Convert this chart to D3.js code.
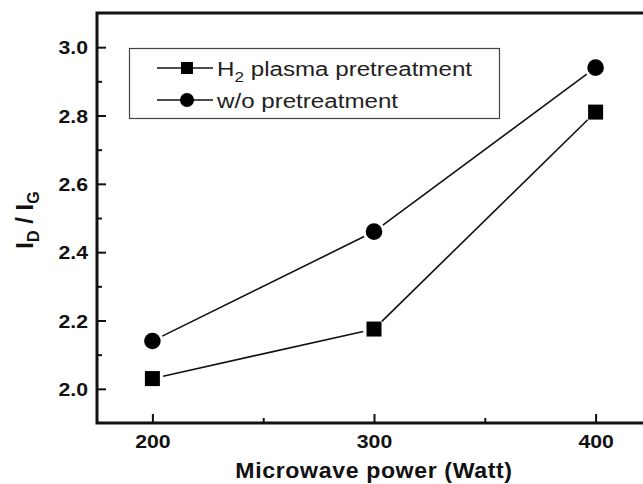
<!DOCTYPE html>
<html>
<head>
<meta charset="utf-8">
<script src="https://cdn.jsdelivr.net/npm/d3@7"></script>
<style>
  body { margin: 0; background: #fff; }
  svg { display: block; font-family: Arial, "Liberation Sans", sans-serif; }
</style>
</head>
<body>
<svg id="chart" width="643" height="484"></svg>
<script>
const power = [200, 300, 400];
const h2Plasma = [2.03, 2.175, 2.81];
const noPretreat = [2.14, 2.46, 2.94];
const xTicks = [200, 300, 400];
const yTicks = [2.0, 2.2, 2.4, 2.6, 2.8, 3.0];

const width = 643, height = 484;
const margins = { left: 97, top: 13, right: -8, bottom: 61 };
const sx = 1.18; // glyphs in the reference look stretched sideways

const vis = d3.select('#chart');

const xScale = d3.scaleLinear()
  .domain([175, 425])
  .range([margins.left, width - margins.right]);
const yScale = d3.scaleLinear()
  .domain([1.9, 3.1])
  .range([height - margins.bottom, margins.top]);

const x0 = margins.left, y0 = height - margins.bottom;

// minor ticks
vis.append('g')
  .attr('transform', 'translate(0,' + y0 + ')')
  .call(d3.axisBottom(xScale).tickValues([250, 350]).tickSize(-5).tickFormat('').tickSizeOuter(0))
  .call(g => g.select('.domain').remove())
  .selectAll('line').attr('stroke', '#111').attr('stroke-width', 2);
vis.append('g')
  .attr('transform', 'translate(' + x0 + ',0)')
  .call(d3.axisLeft(yScale).tickValues([2.1, 2.3, 2.5, 2.7, 2.9]).tickSize(-5).tickFormat('').tickSizeOuter(0))
  .call(g => g.select('.domain').remove())
  .selectAll('line').attr('stroke', '#111').attr('stroke-width', 2);

// major x axis
const xAxisG = vis.append('g')
  .attr('transform', 'translate(0,' + y0 + ')')
  .call(d3.axisBottom(xScale).tickValues(xTicks).tickSize(-9).tickSizeOuter(0).tickFormat(d3.format('d')));
xAxisG.select('.domain').remove();
xAxisG.selectAll('line').attr('stroke', '#111').attr('stroke-width', 2);
xAxisG.selectAll('text')
  .attr('y', null).attr('dy', null)
  .attr('transform', 'translate(0,25) scale(' + sx + ',1)')
  .style('font-size', '18px').style('font-weight', 'bold').attr('fill', '#111');

// major y axis
const yAxisG = vis.append('g')
  .attr('transform', 'translate(' + x0 + ',0)')
  .call(d3.axisLeft(yScale).tickValues(yTicks).tickSize(-9).tickSizeOuter(0).tickFormat(d3.format('.1f')));
yAxisG.select('.domain').remove();
yAxisG.selectAll('line').attr('stroke', '#111').attr('stroke-width', 2);
yAxisG.selectAll('text')
  .attr('x', null).attr('dy', null)
  .attr('transform', 'translate(-9,6.5) scale(' + sx + ',1)')
  .style('font-size', '18px').style('font-weight', 'bold').attr('fill', '#111');

// frame: left, bottom, top (right side is cut off)
vis.append('path')
  .attr('d', 'M' + (width + 5) + ',' + margins.top + 'H' + x0 + 'V' + y0 + 'H' + (width + 5))
  .attr('fill', 'none')
  .attr('stroke', '#111')
  .attr('stroke-width', 3);

// lines with small gaps at markers
function drawSeries(vals, marker) {
  const pts = power.map((p, i) => [xScale(p), yScale(vals[i])]);
  const gap = 11;
  for (let i = 0; i < pts.length - 1; i++) {
    const [ax, ay] = pts[i], [bx, by] = pts[i + 1];
    const len = Math.hypot(bx - ax, by - ay);
    const ux = (bx - ax) / len, uy = (by - ay) / len;
    vis.append('line')
      .attr('x1', ax + ux * gap).attr('y1', ay + uy * gap)
      .attr('x2', bx - ux * gap).attr('y2', by - uy * gap)
      .attr('stroke', '#111').attr('stroke-width', 1.6);
  }
  pts.forEach(([px, py]) => {
    if (marker === 'square') {
      vis.append('rect')
        .attr('x', px - 7.5).attr('y', py - 7.5)
        .attr('width', 15).attr('height', 15)
        .attr('fill', '#000');
    } else {
      vis.append('circle')
        .attr('cx', px).attr('cy', py).attr('r', 8.3)
        .attr('fill', '#000');
    }
  });
}
drawSeries(h2Plasma, 'square');
drawSeries(noPretreat, 'circle');

// legend
const legend = vis.append('g');
legend.append('rect')
  .attr('x', 129.5).attr('y', 48.5)
  .attr('width', 370).attr('height', 70)
  .attr('fill', '#fff')
  .attr('stroke', '#444')
  .attr('stroke-width', 1.2);

const entries = [
  { marker: 'square', y: 68 },
  { marker: 'circle', y: 100 }
];
entries.forEach(e => {
  legend.append('line')
    .attr('x1', 157).attr('x2', 213)
    .attr('y1', e.y).attr('y2', e.y)
    .attr('stroke', '#111').attr('stroke-width', 1.6);
  if (e.marker === 'square') {
    legend.append('rect')
      .attr('x', 187 - 6).attr('y', e.y - 6)
      .attr('width', 12).attr('height', 12).attr('fill', '#000');
  } else {
    legend.append('circle')
      .attr('cx', 187).attr('cy', e.y).attr('r', 7).attr('fill', '#000');
  }
});

const t1 = legend.append('text')
  .attr('transform', 'translate(217,' + (68 + 7.5) + ') scale(1.15,1)')
  .style('font-size', '21px').attr('fill', '#222');
t1.append('tspan').text('H');
t1.append('tspan').attr('dy', 6).style('font-size', '15px').text('2');
t1.append('tspan').attr('dy', -6).text(' plasma pretreatment');

legend.append('text')
  .attr('transform', 'translate(217,' + (100 + 7.5) + ') scale(1.15,1)')
  .style('font-size', '21px').attr('fill', '#222')
  .text('w/o pretreatment');

// axis titles
vis.append('text')
  .attr('transform', 'translate(374,478) scale(1.05,1)')
  .attr('text-anchor', 'middle')
  .style('font-size', '22px').style('font-weight', 'bold')
  .style('letter-spacing', '0.6px')
  .attr('fill', '#111')
  .text('Microwave power (Watt)');

const yt = vis.append('text')
  .attr('transform', 'translate(33,220) rotate(-90)')
  .attr('text-anchor', 'middle')
  .style('font-size', '24px').style('font-weight', 'bold')
  .attr('fill', '#111');
yt.append('tspan').text('I');
yt.append('tspan').attr('dy', 6).style('font-size', '16px').text('D');
yt.append('tspan').attr('dy', -6).text(' / I');
yt.append('tspan').attr('dy', 6).style('font-size', '16px').text('G');
</script>
</body>
</html>
